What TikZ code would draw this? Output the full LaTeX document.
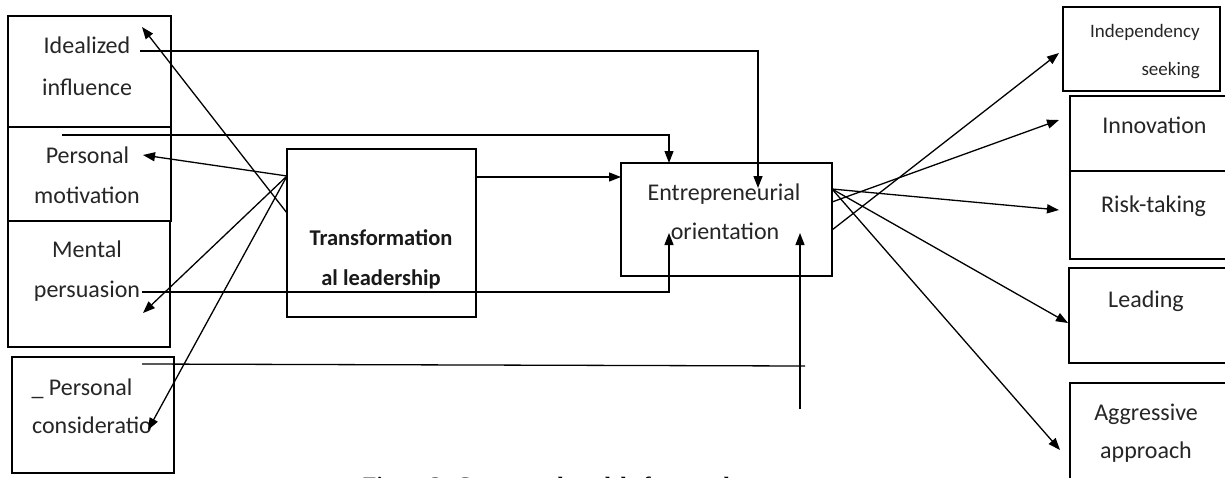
\documentclass[tikz,border=0pt]{standalone}
\usepackage{fontspec}
\setmainfont{Carlito}
\newfontfamily\capfont{Liberation Serif}
\usetikzlibrary{arrows.meta}
\begin{document}
\begin{tikzpicture}[x=1pt,y=-1pt,
  box/.style={draw=black, line width=1.5pt, rectangle, inner sep=0pt, outer sep=0pt},
  lbl/.style={anchor=base, inner sep=0pt, text=black!85, font=\fontsize{24}{28}\selectfont},
  small/.style={anchor=base east, inner sep=0pt, text=black!85, font=\fontsize{19}{22}\selectfont},
  boldlbl/.style={anchor=base, inner sep=0pt, text=black!90, font=\bfseries\fontsize{22.5}{26}\selectfont},
  conn/.style={line width=1.3pt, draw=black},
  arr/.style={conn, -{Triangle[length=12pt,width=9pt]}},
]
\useasboundingbox (0,0) rectangle (1225,477);
\clip (0,0) rectangle (1225,477);
\fill[white] (0,0) rectangle (1225,477);

% ---- dimension boxes of transformational leadership
\node[box, minimum width=163pt, minimum height=111pt] (ii) at (89.5,71.5) {};
\node[box, minimum width=163pt, minimum height=94pt]  (pm) at (89.5,174) {};
\node[box, minimum width=162pt, minimum height=126pt] (mp) at (89,284) {};
\node[box, minimum width=162pt, minimum height=116pt] (pc) at (93,415) {};

\node[lbl] (ii1) at (87,53) {Idealized};
\node[lbl] (ii2) at (87,95) {influence};
\node[lbl] (pm1) at (87.5,163) {Personal};
\node[lbl] (pm2) at (87,203) {motivation};
\node[lbl] (mp1) at (87,257) {Mental};
\node[lbl] (mp2) at (87,297) {persuasion};
\node[lbl] (pc1) at (82,395) {\_\ Personal};
\node[lbl] (pc2) at (92,433) {consideratio};

% ---- central constructs
\node[box, minimum width=189pt, minimum height=168pt] (tl) at (381.5,233) {};
\node[boldlbl] (tl1) at (381,245) {Transformation};
\node[boldlbl] (tl2) at (381,285) {al leadership};

\node[box, minimum width=211pt, minimum height=113pt] (eo) at (726.5,219.5) {};
\node[lbl] (eo1) at (724,200) {Entrepreneurial};
\node[lbl] (eo2) at (725,239) {orientation};

% ---- dimensions of entrepreneurial orientation
\node[box, minimum width=157pt, minimum height=84pt]  (ids) at (1141.5,49) {};
\node[box, minimum width=165pt, minimum height=75pt]  (inn) at (1152.5,133.5) {};
\node[box, minimum width=165pt, minimum height=88pt]  (rt)  at (1152.5,215) {};
\node[box, minimum width=166pt, minimum height=95pt]  (ld)  at (1152,315.5) {};
\node[box, minimum width=165pt, minimum height=107pt] (ag)  at (1152.5,436.5) {};

\node[small] (ids1) at (1200,37) {Independency};
\node[small] (ids2) at (1200,75) {seeking};
\node[lbl] (inn1) at (1154.5,133) {Innovation};
\node[lbl] (rt1)  at (1153.5,212) {Risk-taking};
\node[lbl] (ld1)  at (1146,307) {Leading};
\node[lbl] (ag1)  at (1146,420) {Aggressive};
\node[lbl] (ag2)  at (1146,458) {approach};

% ---- connector end points
\coordinate (c1s) at (140,51);   \coordinate (c1e) at (758,188);
\coordinate (c2s) at (62,135);   \coordinate (c2e) at (669,163);
\coordinate (c3s) at (476,177);  \coordinate (c3e) at (621,177);
\coordinate (c4s) at (142,292);  \coordinate (c4e) at (669,233);
\coordinate (c5s) at (142,364);  \coordinate (c5e) at (805,366);
\coordinate (c6s) at (800,409);  \coordinate (c6e) at (800,233);

\coordinate (fl)  at (287,176);
\coordinate (fl2) at (287,213);
\coordinate (t-ii) at (142,27);
\coordinate (t-pm) at (143,155);
\coordinate (t-mp) at (143,313);
\coordinate (t-pc) at (148,430);

\coordinate (fr1) at (832,189);
\coordinate (fr2) at (832,202);
\coordinate (fr3) at (832,230);
\coordinate (t-ids) at (1059,53);
\coordinate (t-inn) at (1059,120);
\coordinate (t-rt)  at (1059,210);
\coordinate (t-ld)  at (1068,323);
\coordinate (t-ag)  at (1060,450);

% ---- direct paths into entrepreneurial orientation
\draw[arr] (c1s) -| (c1e);
\draw[arr] (c2s) -| (c2e);
\draw[arr] (c3s) -- (c3e);
\draw[arr] (c4s) -| (c4e);
\draw[conn] (c5s) -- (c5e);
\draw[arr] (c6s) -- (c6e);

% ---- transformational leadership towards its dimensions
\draw[arr] (fl2) -- (t-ii);
\draw[arr] (fl) -- (t-pm);
\draw[arr] (fl) -- (t-mp);
\draw[arr] (fl) -- (t-pc);

% ---- entrepreneurial orientation towards its dimensions
\draw[arr] (fr3) -- (t-ids);
\draw[arr] (fr2) -- (t-inn);
\draw[arr] (fr1) -- (t-rt);
\draw[arr] (fr1) -- (t-ld);
\draw[arr] (fr1) -- (t-ag);

% ---- caption, running past the lower edge of the figure
\node[anchor=base west, inner sep=0pt, font=\capfont\bfseries\fontsize{22}{26}\selectfont] (cap) at (363,492) {Figure 3: Conceptual model of research};
\end{tikzpicture}
\end{document}
